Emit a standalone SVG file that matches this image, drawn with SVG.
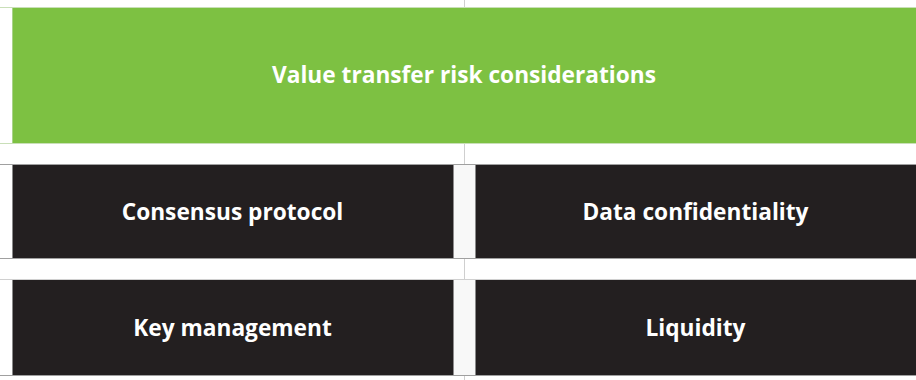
<svg xmlns="http://www.w3.org/2000/svg" width="916" height="380" viewBox="0 0 916 380">
<style>
.t{font-family:"Open Sans","Noto Sans","Liberation Sans",sans-serif;font-weight:bold;font-size:22.7px;fill:#ffffff;text-anchor:middle}
.dark{fill:#231f20}
.edge{stroke:#8a8a8a;stroke-width:1}
</style>
<rect width="916" height="380" fill="#ffffff"/>
<g id="connectors" stroke-width="1" fill="none">
<line x1="464.5" y1="0" x2="464.5" y2="380" stroke="#cfcfcf"/>
<line x1="0" y1="7.5" x2="916" y2="7.5" stroke="#c9dfb8"/>
<line x1="0" y1="143.5" x2="916" y2="143.5" stroke="#c9dfb8"/>
<line x1="0" y1="164.5" x2="916" y2="164.5" stroke="#a0a0a0"/>
<line x1="0" y1="258.5" x2="916" y2="258.5" stroke="#a0a0a0"/>
<line x1="0" y1="279.5" x2="916" y2="279.5" stroke="#d0d0d0"/>
<line x1="0" y1="375.5" x2="916" y2="375.5" stroke="#a0a0a0"/>
<rect x="453.5" y="165" width="21.5" height="93" fill="#f8f8f8"/>
<rect x="453.5" y="280" width="21.5" height="95" fill="#f8f8f8"/>
</g>
<g id="header">
<rect x="12" y="8" width="904" height="135" fill="#7dc142"/>
<line x1="12.5" y1="8" x2="12.5" y2="143" stroke="#a9d38a"/>
<text class="t" x="464" y="83">Value transfer risk considerations</text>
</g>
<g id="consensus">
<rect class="dark" x="12" y="165" width="441.5" height="93"/>
<line class="edge" x1="12.5" y1="165" x2="12.5" y2="258"/>
<text class="t" x="232.5" y="220">Consensus protocol</text>
</g>
<g id="data">
<rect class="dark" x="475" y="165" width="441" height="93"/>
<line class="edge" x1="475.5" y1="165" x2="475.5" y2="258"/>
<text class="t" x="695.5" y="220">Data confidentiality</text>
</g>
<g id="key">
<rect class="dark" x="12" y="280" width="441.5" height="95"/>
<line class="edge" x1="12.5" y1="280" x2="12.5" y2="375"/>
<text class="t" x="232.5" y="336">Key management</text>
</g>
<g id="liquidity">
<rect class="dark" x="475" y="280" width="441" height="95"/>
<line class="edge" x1="475.5" y1="280" x2="475.5" y2="375"/>
<text class="t" x="695.5" y="336">Liquidity</text>
</g>
</svg>
